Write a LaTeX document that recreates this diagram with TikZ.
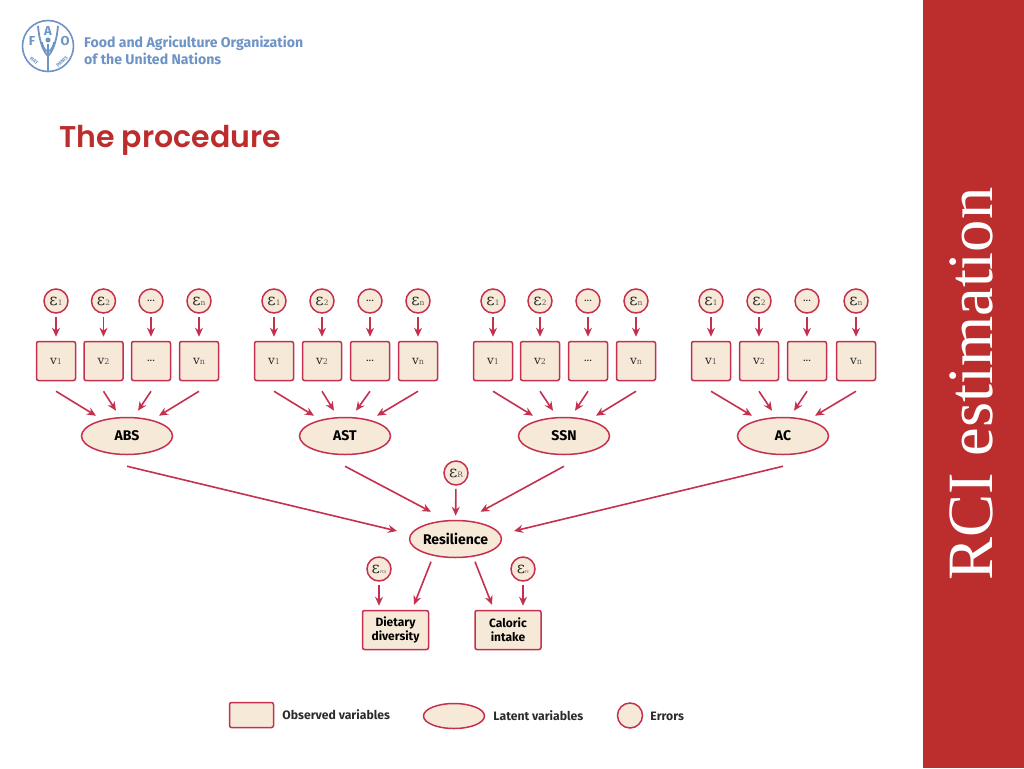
\documentclass[tikz,border=0pt]{standalone}
\usepackage{fontspec}
\usepackage{tikz}
\usetikzlibrary{positioning,arrows.meta,shapes.geometric}
\setmainfont{Liberation Serif}
\newfontfamily\labelfont{Fira Sans}
\newfontfamily\titlefont{Poppins SemiBold}
\newfontfamily\symfont{DejaVu Serif}

\definecolor{faored}{HTML}{C5304E}
\definecolor{faofill}{HTML}{F7E9D7}
\definecolor{faoband}{HTML}{BC2D2D}
\definecolor{faoblue}{HTML}{6E93C5}
\definecolor{faotext}{HTML}{2B2B2B}
\definecolor{faosub}{HTML}{5A5A5A}

\newcommand{\eps}[1]{{\symfont\fontsize{16}{16}\selectfont\char"03B5\fontsize{7.5}{8}\selectfont\color{faosub}#1}}
\newcommand{\epstiny}[1]{{\symfont\fontsize{16}{16}\selectfont\char"03B5\labelfont\fontsize{4}{4}\selectfont\color{faosub}#1}}
\newcommand{\var}[1]{{\symfont\fontsize{12}{12}\selectfont v\fontsize{8}{8}\selectfont\color{faosub}#1}}
\newcommand{\more}{{\labelfont\fontsize{11}{11}\selectfont ...}}

\tikzset{
  obsbox/.style={draw=faored,fill=faofill,line width=1.5pt,rounded corners=2pt,minimum width=39pt,minimum height=39pt,inner sep=0pt,text=faotext},
  latent/.style={ellipse,draw=faored,fill=faofill,line width=1.5pt,minimum width=91pt,minimum height=37pt,inner sep=0pt,text=black,font=\labelfont\bfseries\fontsize{14}{14}\selectfont},
  errnode/.style={circle,draw=faored,fill=faofill,line width=1.5pt,minimum size=24pt,inner sep=0pt,text=faotext},
  wordbox/.style={obsbox,minimum width=66pt,align=center,text=black,font=\labelfont\fontsize{12}{14}\selectfont\bfseries},
  keytext/.style={text=faotext,inner sep=0pt,text height=9pt,text depth=3pt,yshift=-1.5pt,font=\labelfont\bfseries\fontsize{12.2}{12.2}\selectfont},
  link/.style={draw=faored,line width=1.6pt,-{Stealth[length=9pt,width=8pt]}},
  shortlink/.style={link,shorten <=3pt,shorten >=4pt}
}

\begin{document}
\begin{tikzpicture}[x=1pt,y=-1pt]
\useasboundingbox (0,0) rectangle (1024,768);

\fill[faoband] (923,0) rectangle (1024,768);
\node[rotate=90,text=white,font=\fontsize{64.6}{64.6}\selectfont] (side) at (971,384) {RCI estimation};

% logo
\draw[faoblue,line width=1.6pt] (48,46) circle (25.5);
\node[text=faoblue,font=\labelfont\bfseries\fontsize{13}{13}\selectfont,inner sep=0pt] (logof) at (32,41) {F};
\node[text=faoblue,font=\labelfont\bfseries\fontsize{13}{13}\selectfont,inner sep=0pt] (logoa) at (48,31) {A};
\node[text=faoblue,font=\labelfont\bfseries\fontsize{13}{13}\selectfont,inner sep=0pt] (logoo) at (65,41) {O};
\node[text=faoblue,rotate=-40,font=\labelfont\bfseries\fontsize{5}{5}\selectfont,inner sep=0pt] (logofiat) at (34,61) {FIAT};
\node[text=faoblue,rotate=40,font=\labelfont\bfseries\fontsize{5}{5}\selectfont,inner sep=0pt] (logopanis) at (62,62) {PANIS};
\draw[faoblue,line width=1.6pt] (48,44) -- (48,71);
\draw[faoblue,line width=1.8pt] (38,26) .. controls (39,38) and (42,50) .. (48,56);
\draw[faoblue,line width=1.8pt] (58,26) .. controls (57,38) and (54,50) .. (48,56);
\draw[faoblue,line width=1.4pt] (42,42) .. controls (43,47) and (45,50) .. (48,52);
\draw[faoblue,line width=1.4pt] (54,42) .. controls (53,47) and (51,50) .. (48,52);
\fill[faoblue] (48,40) circle (2.5);
\node[text=faoblue,anchor=west,align=left,inner sep=0pt,font=\labelfont\bfseries\fontsize{14.1}{17}\selectfont] (logoname) at (84,50.5) {Food and Agriculture Organization\\of the United Nations};

\node[text=faoband,anchor=west,inner sep=0pt,font=\titlefont\fontsize{30}{30}\selectfont] (title) at (59,140) {The procedure};

% errors, first row
\node[errnode] (e11) at (56,301) {\eps{1}};
\node[errnode,right = 22pt of e11] (e12) {\eps{2}};
\node[errnode,right = 22pt of e12] (e13) {\more};
\node[errnode,right = 22.5pt of e13] (e14) {\eps{n}};

\node[errnode] (e21) at (274,301) {\eps{1}};
\node[errnode,right = 22.5pt of e21] (e22) {\eps{2}};
\node[errnode,right = 22.5pt of e22] (e23) {\more};
\node[errnode,right = 22.5pt of e23] (e24) {\eps{n}};

\node[errnode] (e31) at (493,301) {\eps{1}};
\node[errnode,right = 21.5pt of e31] (e32) {\eps{2}};
\node[errnode,right = 22.5pt of e32] (e33) {\more};
\node[errnode,right = 22.5pt of e33] (e34) {\eps{n}};

\node[errnode] (e41) at (711,301) {\eps{1}};
\node[errnode,right = 22.5pt of e41] (e42) {\eps{2}};
\node[errnode,right = 22.5pt of e42] (e43) {\more};
\node[errnode,right = 23.5pt of e43] (e44) {\eps{n}};

% observed variables
\node[obsbox] (v11) at (56,361) {\var{1}};
\node[obsbox,right = 7pt of v11] (v12) {\var{2}};
\node[obsbox,right = 7pt of v12] (v13) {\more};
\node[obsbox,right = 7.5pt of v13] (v14) {\var{n}};

\node[obsbox] (v21) at (274,361) {\var{1}};
\node[obsbox,right = 7.5pt of v21] (v22) {\var{2}};
\node[obsbox,right = 7.5pt of v22] (v23) {\more};
\node[obsbox,right = 7.5pt of v23] (v24) {\var{n}};

\node[obsbox] (v31) at (493,361) {\var{1}};
\node[obsbox,right = 6.5pt of v31] (v32) {\var{2}};
\node[obsbox,right = 7.5pt of v32] (v33) {\more};
\node[obsbox,right = 7.5pt of v33] (v34) {\var{n}};

\node[obsbox] (v41) at (711,361) {\var{1}};
\node[obsbox,right = 7.5pt of v41] (v42) {\var{2}};
\node[obsbox,right = 7.5pt of v42] (v43) {\more};
\node[obsbox,right = 8.5pt of v43] (v44) {\var{n}};

% latent variables
\node[latent] (abs) at (127,436) {ABS};
\node[latent] (ast) at (345,436) {AST};
\node[latent] (ssn) at (564,436) {SSN};
\node[latent] (ac) at (783,436) {AC};
\node[latent] (res) at (455.5,539) {Resilience};

\node[errnode] (er) at (456,473) {\eps{R}};
\node[errnode] (efc) at (379,569) {\epstiny{FCS}};
\node[errnode] (efi) at (523,569) {\epstiny{FC}};

\node[wordbox] (diet) at (395.5,630) {Dietary\\diversity};
\node[wordbox] (cal) at (508,630) {Caloric\\intake};

% key
\node[obsbox,minimum width=44pt,minimum height=25pt] (keyobs) at (251.5,715) {};
\node[keytext,right = 8pt of keyobs] (keyobstext) {Observed variables};
\node[latent,minimum width=61pt,minimum height=25pt] (keylat) at (454,716) {};
\node[keytext,right = 8pt of keylat] (keylattext) {Latent variables};
\node[errnode,minimum size=25pt] (keyerr) at (630,715.5) {};
\node[keytext,right = 7pt of keyerr] (keyerrtext) {Errors};

\path (e11) edge[shortlink] (v11);
\path (e12) edge[shortlink] (v12);
\path (e13) edge[shortlink] (v13);
\path (e14) edge[shortlink] (v14);

\path (e21) edge[shortlink] (v21);
\path (e22) edge[shortlink] (v22);
\path (e23) edge[shortlink] (v23);
\path (e24) edge[shortlink] (v24);

\path (e31) edge[shortlink] (v31);
\path (e32) edge[shortlink] (v32);
\path (e33) edge[shortlink] (v33);
\path (e34) edge[shortlink] (v34);

\path (e41) edge[shortlink] (v41);
\path (e42) edge[shortlink] (v42);
\path (e43) edge[shortlink] (v43);
\path (e44) edge[shortlink] (v44);

\path ([yshift=-10pt]v11.south) edge[link] ([xshift=-31pt,yshift=1pt]abs.north);
\path ([yshift=-10pt]v12.south) edge[link] ([xshift=-11pt,yshift=6pt]abs.north);
\path ([yshift=-10pt]v13.south) edge[link] ([xshift=11pt,yshift=6pt]abs.north);
\path ([yshift=-10pt]v14.south) edge[link] ([xshift=32pt,yshift=1pt]abs.north);

\path ([yshift=-10pt]v21.south) edge[link] ([xshift=-31pt,yshift=1pt]ast.north);
\path ([yshift=-10pt]v22.south) edge[link] ([xshift=-11pt,yshift=6pt]ast.north);
\path ([yshift=-10pt]v23.south) edge[link] ([xshift=11pt,yshift=6pt]ast.north);
\path ([yshift=-10pt]v24.south) edge[link] ([xshift=32pt,yshift=1pt]ast.north);

\path ([yshift=-10pt]v31.south) edge[link] ([xshift=-31pt,yshift=1pt]ssn.north);
\path ([yshift=-10pt]v32.south) edge[link] ([xshift=-11pt,yshift=6pt]ssn.north);
\path ([yshift=-10pt]v33.south) edge[link] ([xshift=11pt,yshift=6pt]ssn.north);
\path ([yshift=-10pt]v34.south) edge[link] ([xshift=32pt,yshift=1pt]ssn.north);

\path ([yshift=-10pt]v41.south) edge[link] ([xshift=-31pt,yshift=1pt]ac.north);
\path ([yshift=-10pt]v42.south) edge[link] ([xshift=-11pt,yshift=6pt]ac.north);
\path ([yshift=-10pt]v43.south) edge[link] ([xshift=11pt,yshift=6pt]ac.north);
\path ([yshift=-10pt]v44.south) edge[link] ([xshift=32pt,yshift=1pt]ac.north);

\path ([yshift=-11pt]abs.south) edge[link] ([xshift=-58.5pt,yshift=8pt]res.center);
\path ([yshift=-11pt]ast.south) edge[link] ([xshift=-24.5pt,yshift=8pt]res.north);
\path ([yshift=-11pt]ssn.south) edge[link] ([xshift=25pt,yshift=8pt]res.north);
\path ([yshift=-11pt]ac.south) edge[link] ([xshift=58.5pt,yshift=8pt]res.center);

\path (er) edge[shortlink] (res);
\path (efc) edge[shortlink] (efc |- diet.north);
\path (efi) edge[shortlink] (efi |- cal.north);
\path ([xshift=-24.5pt,yshift=-3.5pt]res.south) edge[link] ([xshift=18.5pt,yshift=5pt]diet.north);
\path ([xshift=19.5pt,yshift=-3.5pt]res.south) edge[link] ([xshift=-16pt,yshift=5pt]cal.north);
\end{tikzpicture}
\end{document}
